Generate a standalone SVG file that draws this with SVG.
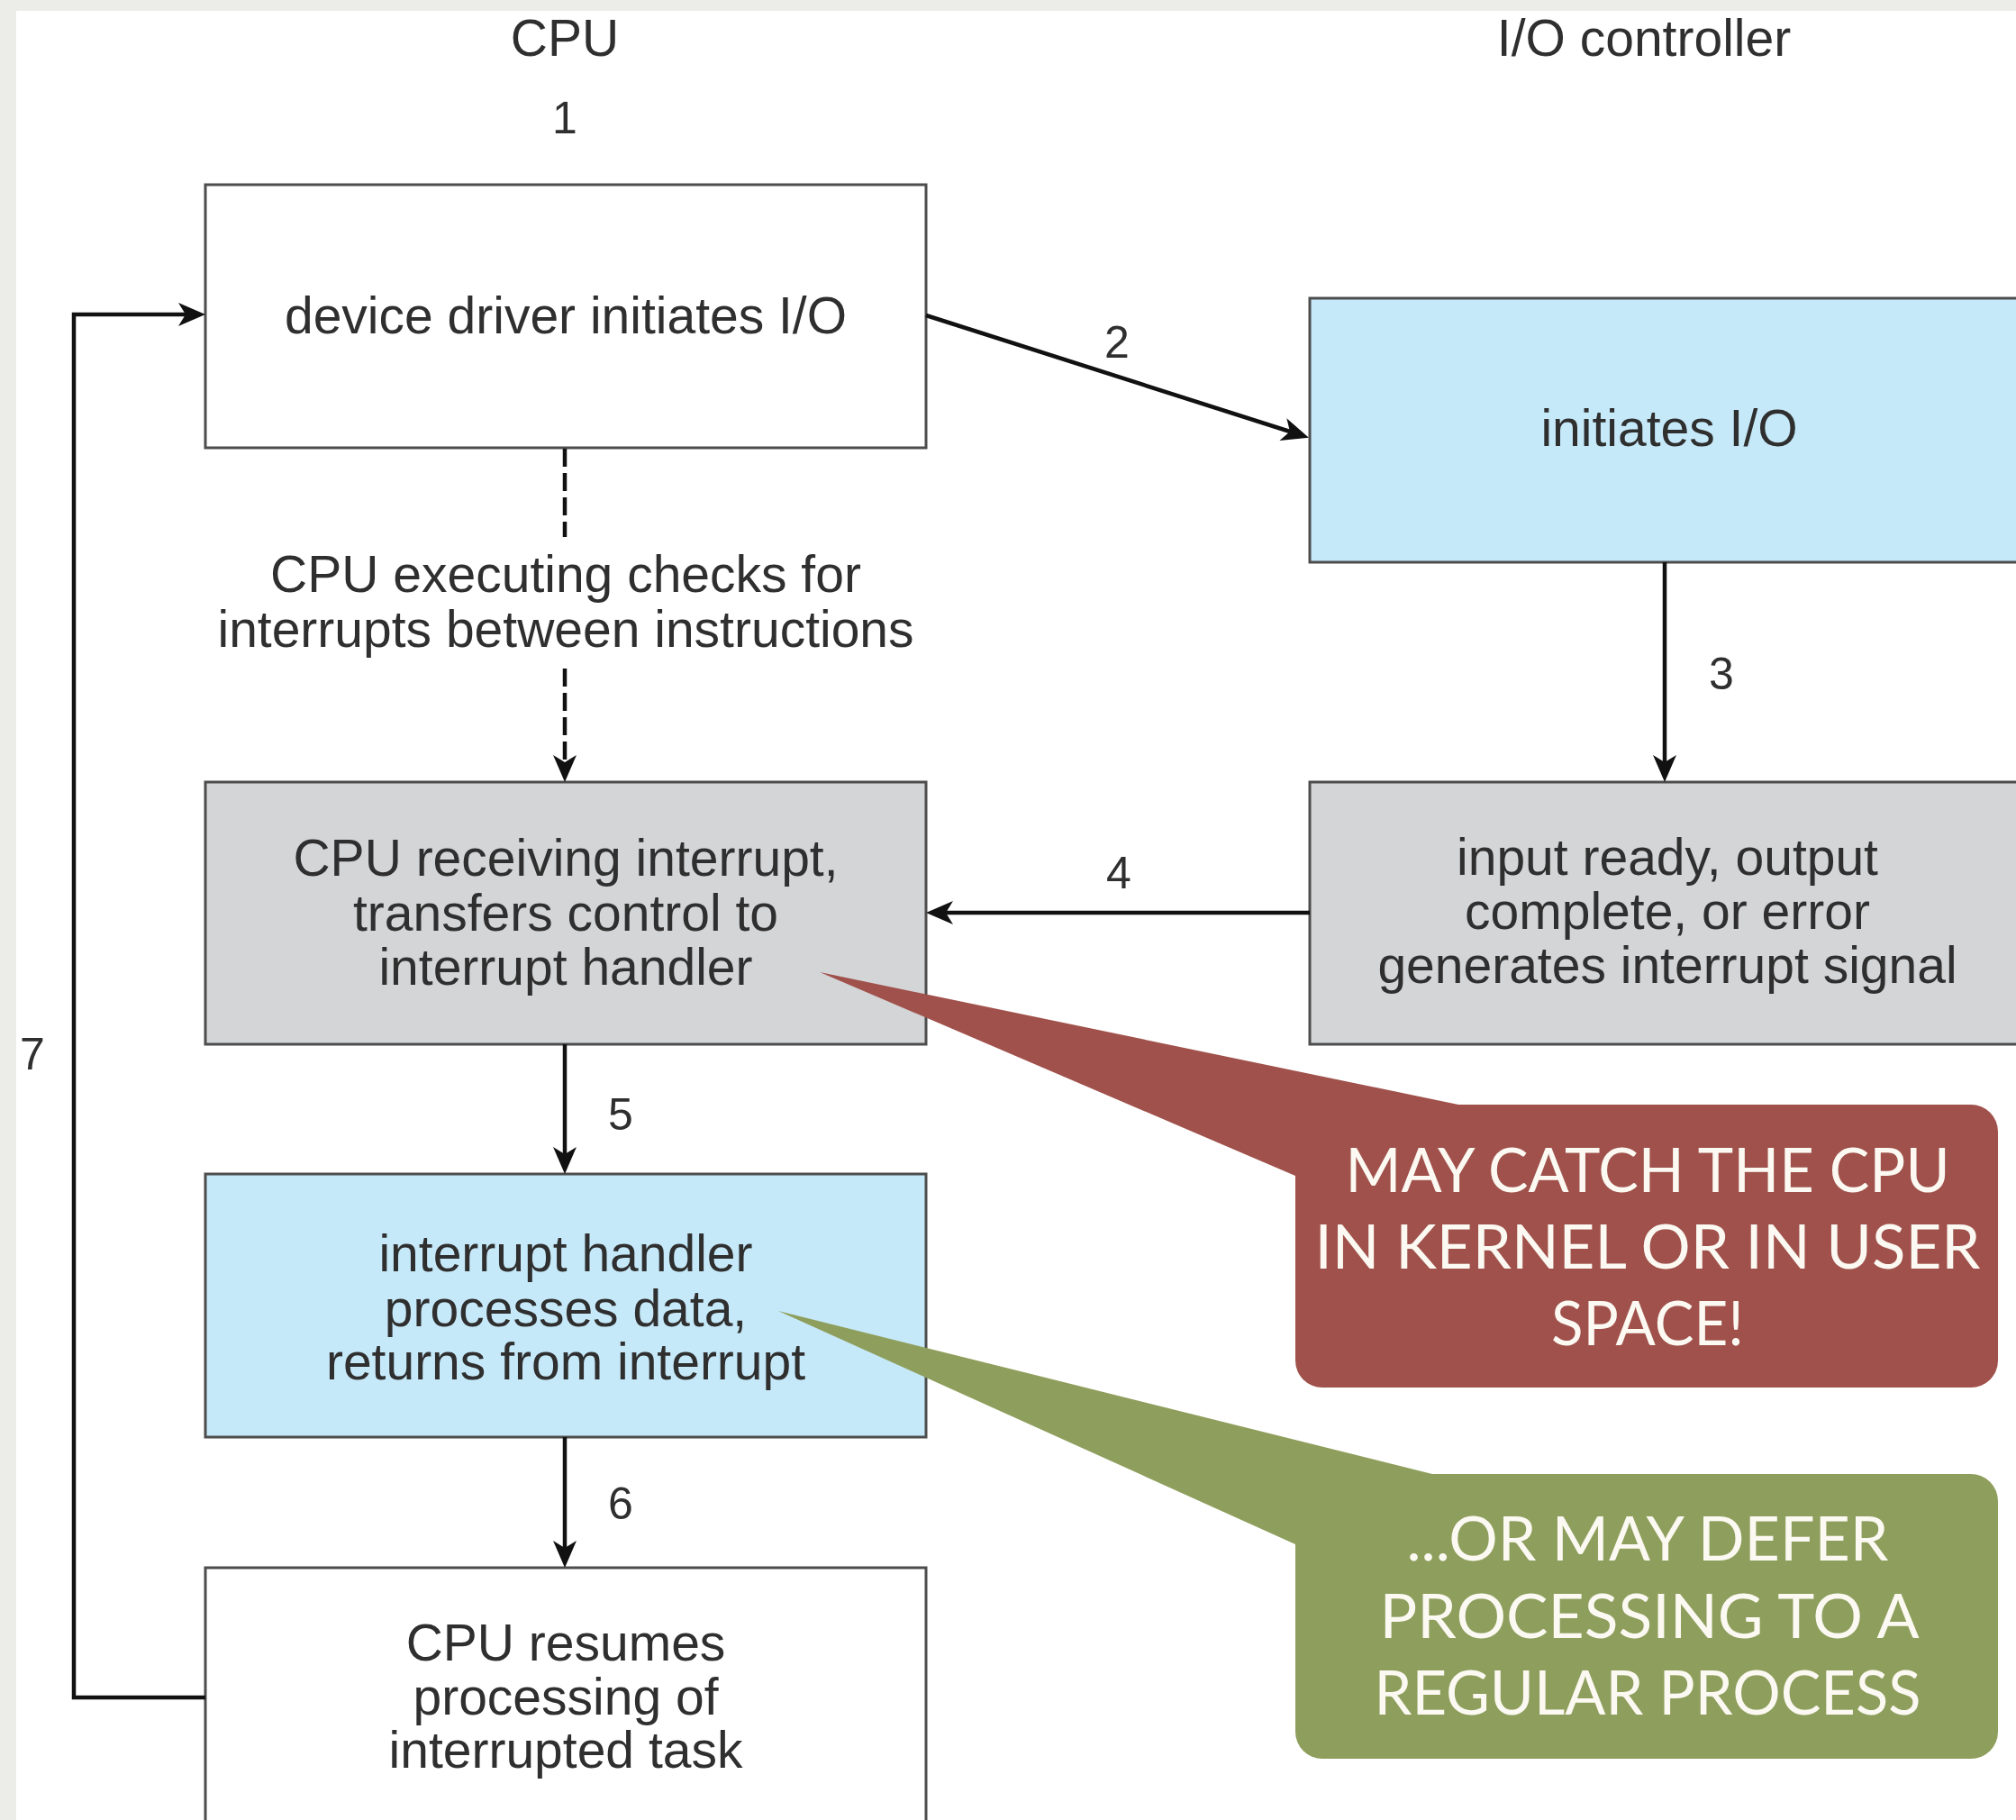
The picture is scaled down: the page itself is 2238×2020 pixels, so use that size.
<svg xmlns="http://www.w3.org/2000/svg" width="2238" height="2020" viewBox="0 0 2238 2020">
  <defs>
    <style>
      .box { stroke: #4d4d4d; stroke-width: 3; }
      .white { fill: #ffffff; }
      .blue { fill: #c6e9f9; }
      .grey { fill: #d3d5d7; }
      .txt { font-family: "Liberation Sans", Arial, Helvetica, sans-serif; font-size: 57px; fill: #2f2f2f; text-anchor: middle; }
      .num { font-family: "Liberation Sans", Arial, Helvetica, sans-serif; font-size: 50px; fill: #2f2f2f; text-anchor: middle; }
      .wire { fill: none; stroke: #111; stroke-width: 4.5; }
      .dash { stroke-dasharray: 20 7; }
      .note { font-family: Lato, "Open Sans", "Liberation Sans", sans-serif; font-size: 67px; fill: #fbf9f2; text-anchor: middle; }
    </style>
    <marker id="arrow" markerUnits="userSpaceOnUse" viewBox="-10 -14 34 28" refX="0" refY="0" markerWidth="34" markerHeight="28" orient="auto">
      <path d="M22,0 L-8,-13 L0,0 L-8,13 Z" fill="#111"/>
    </marker>
  </defs>

  <!-- page -->
  <rect x="0" y="0" width="2238" height="2020" fill="#ecece8"/>
  <rect x="18" y="12" width="2220" height="2008" fill="#ffffff"/>

  <!-- column headings and step numbers -->
  <g id="labels">
    <text class="txt" x="627" y="62">CPU</text>
    <text class="txt" x="1825" y="62">I/O controller</text>
    <text class="num" x="627" y="148">1</text>
    <text class="num" x="1240" y="397">2</text>
    <text class="num" x="1911" y="765">3</text>
    <text class="num" x="1242" y="986">4</text>
    <text class="num" x="689" y="1254">5</text>
    <text class="num" x="689" y="1686">6</text>
    <text class="num" x="36" y="1187">7</text>
    <text class="txt" x="628" y="657">CPU executing checks for</text>
    <text class="txt" x="628" y="718">interrupts between instructions</text>
  </g>

  <!-- nodes -->
  <g id="node-driver">
    <rect class="box white" x="228" y="205" width="800" height="292"/>
    <text class="txt" x="628" y="370">device driver initiates I/O</text>
  </g>
  <g id="node-controller-start">
    <rect class="box blue" x="1454" y="331" width="798" height="293"/>
    <text class="txt" x="1853" y="495">initiates I/O</text>
  </g>
  <g id="node-cpu-receive">
    <rect class="box grey" x="228" y="868" width="800" height="291"/>
    <text class="txt" x="628" y="972">CPU receiving interrupt,</text>
    <text class="txt" x="628" y="1033">transfers control to</text>
    <text class="txt" x="628" y="1093">interrupt handler</text>
  </g>
  <g id="node-controller-signal">
    <rect class="box grey" x="1454" y="868" width="798" height="291"/>
    <text class="txt" x="1851" y="971">input ready, output</text>
    <text class="txt" x="1851" y="1031">complete, or error</text>
    <text class="txt" x="1851" y="1091">generates interrupt signal</text>
  </g>
  <g id="node-handler">
    <rect class="box blue" x="228" y="1303" width="800" height="292"/>
    <text class="txt" x="628" y="1411">interrupt handler</text>
    <text class="txt" x="628" y="1472">processes data,</text>
    <text class="txt" x="628" y="1531">returns from interrupt</text>
  </g>
  <g id="node-resume">
    <rect class="box white" x="228" y="1740" width="800" height="320"/>
    <text class="txt" x="628" y="1843">CPU resumes</text>
    <text class="txt" x="628" y="1903">processing of</text>
    <text class="txt" x="628" y="1962">interrupted task</text>
  </g>

  <!-- connectors -->
  <g id="connectors">
    <line class="wire" x1="1028" y1="350" x2="1432" y2="479" marker-end="url(#arrow)"/>
    <line class="wire" x1="1848" y1="624" x2="1848" y2="846" marker-end="url(#arrow)"/>
    <line class="wire" x1="1454" y1="1013" x2="1050" y2="1013" marker-end="url(#arrow)"/>
    <line class="wire" x1="627" y1="1159" x2="627" y2="1281" marker-end="url(#arrow)"/>
    <line class="wire" x1="627" y1="1595" x2="627" y2="1718" marker-end="url(#arrow)"/>
    <polyline class="wire" points="228,1884 82,1884 82,349 206,349" marker-end="url(#arrow)"/>
    <line class="wire dash" x1="627" y1="498" x2="627" y2="596"/>
    <line class="wire dash" x1="627" y1="742" x2="627" y2="846" marker-end="url(#arrow)"/>
  </g>

  <!-- callouts -->
  <g id="callout-kernel">
    <path d="M910,1079 L1619,1226 L1438,1305 Z" fill="#a0514b"/>
    <rect x="1438" y="1226" width="780" height="314" rx="30" fill="#a0514b"/>
    <text class="note" x="1829" y="1323" textLength="671" lengthAdjust="spacingAndGlyphs">MAY CATCH THE CPU</text>
    <text class="note" x="1829" y="1408" textLength="739" lengthAdjust="spacingAndGlyphs">IN KERNEL OR IN USER</text>
    <text class="note" x="1829" y="1493" textLength="214" lengthAdjust="spacingAndGlyphs">SPACE!</text>
  </g>
  <g id="callout-defer">
    <path d="M864,1455 L1590,1636 L1438,1714 Z" fill="#8e9e5c"/>
    <rect x="1438" y="1636" width="780" height="316" rx="30" fill="#8e9e5c"/>
    <text class="note" x="1829" y="1732" textLength="535" lengthAdjust="spacingAndGlyphs">...OR MAY DEFER</text>
    <text class="note" x="1831" y="1818" textLength="599" lengthAdjust="spacingAndGlyphs">PROCESSING TO A</text>
    <text class="note" x="1829" y="1903" textLength="607" lengthAdjust="spacingAndGlyphs">REGULAR PROCESS</text>
  </g>
</svg>
